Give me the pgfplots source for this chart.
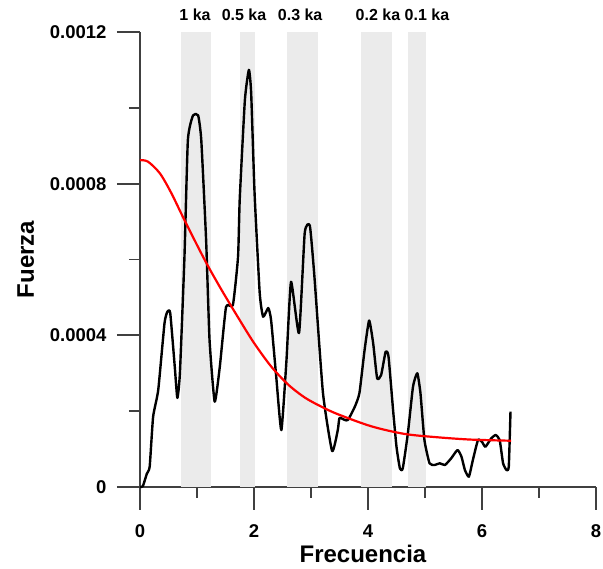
\documentclass[border=0pt]{standalone}
\usepackage{pgfplots}
\pgfplotsset{compat=1.18}
\usepackage{fontspec}
\setmainfont{Liberation Sans}
\definecolor{bandgray}{HTML}{EBEBEB}
\definecolor{axgray}{HTML}{404040}
\begin{document}
\begin{tikzpicture}
\useasboundingbox (-140pt,-82pt) rectangle (463pt,487pt);
\begin{axis}[
  at={(0,0)}, anchor=south west,
  scale only axis, width=456pt, height=455pt,
  xmin=0, xmax=8, ymin=0, ymax=0.0012,
  axis x line*=bottom, axis y line*=left,
  axis line style={axgray, line width=1.8pt},
  tick style={axgray, line width=1.8pt},
  tick align=outside,
  major tick length=23pt, minor tick length=11pt,
  xtick={0,2,4,6,8}, xticklabels={0,2,4,6,8},
  minor xtick={1,3,5,7},
  ytick={0,0.0004,0.0008,0.0012},
  yticklabels={0,0.0004,0.0008,0.0012},
  minor ytick={0.0002,0.0006,0.001},
  scaled y ticks=false,
  ticklabel style={font=\bfseries\fontsize{18.5}{18.5}\selectfont, text=black},
  xticklabel style={yshift=-11pt},
  yticklabel style={xshift=-7pt},
  xlabel={Frecuencia}, ylabel={Fuerza},
  xlabel style={font=\bfseries\fontsize{24}{24}\selectfont, anchor=base, at={(axis description cs:0.489,0)}, yshift=-76pt},
  ylabel style={font=\bfseries\fontsize{24}{24}\selectfont, anchor=base, at={(axis description cs:-0.2325,0.5)}},
  clip=false,
]
% bands
\addplot[fill=bandgray, draw=none] coordinates {(0.72,0) (0.72,0.0012) (1.25,0.0012) (1.25,0)} -- cycle;
\addplot[fill=bandgray, draw=none] coordinates {(1.75,0) (1.75,0.0012) (2.02,0.0012) (2.02,0)} -- cycle;
\addplot[fill=bandgray, draw=none] coordinates {(2.58,0) (2.58,0.0012) (3.12,0.0012) (3.12,0)} -- cycle;
\addplot[fill=bandgray, draw=none] coordinates {(3.88,0) (3.88,0.0012) (4.42,0.0012) (4.42,0)} -- cycle;
\addplot[fill=bandgray, draw=none] coordinates {(4.70,0) (4.70,0.0012) (5.02,0.0012) (5.02,0)} -- cycle;
% spectrum
\addplot[black, line width=2.4pt, line join=round, smooth, tension=0.3] coordinates {
(0.00,0) (0.05,0.000002) (0.12,0.000035) (0.17,0.000054) (0.23,0.000185) (0.32,0.000256)
(0.43,0.000432) (0.48,0.000462) (0.53,0.000459) (0.61,0.000317) (0.655,0.000235)
(0.70,0.000300) (0.78,0.000607) (0.84,0.000915) (0.93,0.00098) (1.02,0.00098)
(1.075,0.000915) (1.16,0.000651) (1.22,0.000388) (1.31,0.000225) (1.40,0.000317)
(1.51,0.000475) (1.63,0.00048) (1.72,0.000607) (1.75,0.000760) (1.84,0.00102)
(1.91,0.0011) (1.95,0.00104) (2.01,0.000775) (2.10,0.000512) (2.16,0.000449)
(2.25,0.000472) (2.30,0.00044) (2.39,0.000291) (2.48,0.000150) (2.57,0.000335)
(2.65,0.000541) (2.79,0.000406) (2.89,0.00067) (2.98,0.000689) (3.06,0.000555)
(3.21,0.000248) (3.37,0.000095) (3.47,0.000150) (3.50,0.000182) (3.59,0.000177)
(3.65,0.000177) (3.77,0.000212) (3.85,0.000248) (3.94,0.000361) (4.02,0.000439)
(4.09,0.00038) (4.16,0.000287) (4.23,0.000295) (4.31,0.000357) (4.36,0.000344)
(4.44,0.000203) (4.50,0.000106) (4.56,0.000049) (4.61,0.000049) (4.70,0.000142)
(4.79,0.000265) (4.865,0.0003) (4.92,0.000248) (4.99,0.000124) (5.08,0.0000625)
(5.17,0.000058) (5.26,0.0000625) (5.35,0.000058) (5.46,0.0000757) (5.57,0.0000976)
(5.64,0.00008) (5.70,0.0000448) (5.77,0.0000272) (5.84,0.0000712) (5.93,0.000124)
(6.00,0.000119) (6.06,0.000106) (6.16,0.000128) (6.24,0.000137) (6.31,0.000124)
(6.37,0.0000625) (6.43,0.0000448) (6.47,0.000054) (6.50,0.000199)
};
% red noise
\addplot[red, line width=2.2pt, smooth] coordinates {
(0.00,0.000862) (0.14,0.000858) (0.35,0.000827) (0.55,0.000775) (0.78,0.000704)
(1.135,0.000599) (1.43,0.00052) (1.75,0.000440) (2.00,0.000380) (2.30,0.000318)
(2.60,0.000270) (2.89,0.000236) (3.18,0.000212) (3.47,0.000192) (4.06,0.000160)
(4.64,0.000140) (5.23,0.000131) (5.81,0.000125) (6.51,0.000122)
};
% band labels
\begin{scope}[every node/.style={font=\bfseries\fontsize{16}{16}\selectfont, anchor=base}]
\node at (axis cs:0.965,0.001229) {1 ka};
\node at (axis cs:1.825,0.001229) {0.5 ka};
\node at (axis cs:2.81,0.001229) {0.3 ka};
\node at (axis cs:4.175,0.001229) {0.2 ka};
\node at (axis cs:5.035,0.001229) {0.1 ka};
\end{scope}
\end{axis}
\end{tikzpicture}
\end{document}
